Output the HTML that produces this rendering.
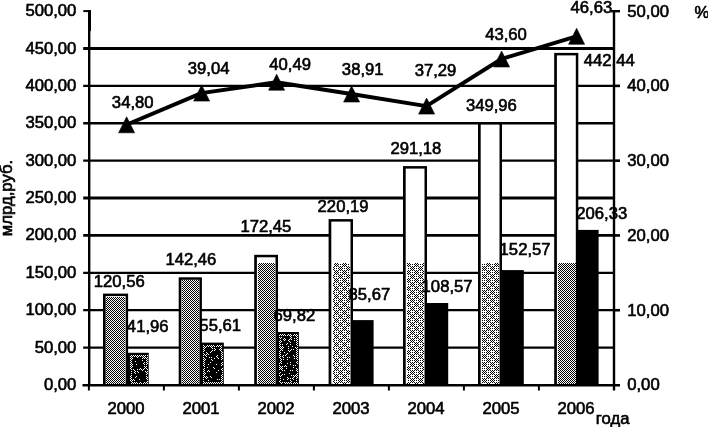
<!DOCTYPE html>
<html lang="ru"><head><meta charset="utf-8"><title>chart</title>
<style>
html,body{margin:0;padding:0;background:#fff;}
body{width:708px;height:427px;overflow:hidden;}
svg{display:block;}
text{font-family:"Liberation Sans",sans-serif;font-size:16.2px;fill:#000;stroke:#000;stroke-width:0.6px;}
</style></head><body>
<svg width="708" height="427" viewBox="0 0 708 427">
<defs>
<pattern id="ht" width="2" height="2" patternUnits="userSpaceOnUse"><rect width="2" height="2" fill="#fff"/><rect x="0" y="0" width="1" height="1" fill="#000"/><rect x="1" y="1" width="1" height="1" fill="#000"/></pattern>
<pattern id="hs" width="8" height="8" patternUnits="userSpaceOnUse"><rect width="8" height="8" fill="#fff"/>
<g fill="#000"><rect x="0" y="0" width="1" height="1"/><rect x="2" y="0" width="1" height="1"/><rect x="4" y="0" width="1" height="1"/><rect x="6" y="0" width="1" height="1"/>
<rect x="1" y="1" width="1" height="1"/><rect x="7" y="1" width="1" height="1"/>
<rect x="0" y="2" width="1" height="1"/><rect x="2" y="2" width="1" height="1"/><rect x="4" y="2" width="1" height="1"/><rect x="6" y="2" width="1" height="1"/>
<rect x="3" y="3" width="1" height="1"/><rect x="5" y="3" width="1" height="1"/>
<rect x="0" y="4" width="1" height="1"/><rect x="2" y="4" width="1" height="1"/><rect x="4" y="4" width="1" height="1"/><rect x="6" y="4" width="1" height="1"/>
<rect x="3" y="5" width="1" height="1"/><rect x="5" y="5" width="1" height="1"/>
<rect x="0" y="6" width="1" height="1"/><rect x="2" y="6" width="1" height="1"/><rect x="4" y="6" width="1" height="1"/><rect x="6" y="6" width="1" height="1"/>
<rect x="1" y="7" width="1" height="1"/><rect x="7" y="7" width="1" height="1"/></g></pattern>
</defs>
<rect width="708" height="427" fill="#fff"/>
<line x1="83.2" y1="347.61" x2="614.0" y2="347.61" stroke="#000" stroke-width="2.2"/>
<line x1="83.2" y1="310.22" x2="614.0" y2="310.22" stroke="#000" stroke-width="2.3"/>
<line x1="83.2" y1="272.83" x2="614.0" y2="272.83" stroke="#000" stroke-width="2.2"/>
<line x1="83.2" y1="235.44" x2="614.0" y2="235.44" stroke="#000" stroke-width="2.8"/>
<line x1="83.2" y1="198.05" x2="614.0" y2="198.05" stroke="#000" stroke-width="2.9"/>
<line x1="83.2" y1="160.66" x2="614.0" y2="160.66" stroke="#000" stroke-width="2.1"/>
<line x1="83.2" y1="123.27" x2="614.0" y2="123.27" stroke="#000" stroke-width="2.6"/>
<line x1="83.2" y1="85.88" x2="614.0" y2="85.88" stroke="#000" stroke-width="2.2"/>
<line x1="83.2" y1="48.49" x2="614.0" y2="48.49" stroke="#000" stroke-width="2.9"/>
<line x1="89.2" y1="10.1" x2="89.2" y2="386.0" stroke="#000" stroke-width="2.4"/>
<line x1="89.5" y1="10.1" x2="89.5" y2="31.1" stroke="#000" stroke-width="3"/>
<line x1="614.0" y1="10.1" x2="614.0" y2="390.5" stroke="#000" stroke-width="2.4"/>
<line x1="82.5" y1="385.2" x2="620.0" y2="385.2" stroke="#000" stroke-width="2.4"/>
<line x1="83.3" y1="11.1" x2="88.9" y2="11.1" stroke="#000" stroke-width="2"/>
<line x1="611.0" y1="11.2" x2="620.0" y2="11.2" stroke="#000" stroke-width="2.4"/>
<line x1="614.0" y1="310.22" x2="620.0" y2="310.22" stroke="#000" stroke-width="2.6"/>
<line x1="614.0" y1="235.44" x2="620.0" y2="235.44" stroke="#000" stroke-width="2.6"/>
<line x1="614.0" y1="160.66" x2="620.0" y2="160.66" stroke="#000" stroke-width="2.6"/>
<line x1="614.0" y1="85.88" x2="620.0" y2="85.88" stroke="#000" stroke-width="2.6"/>
<line x1="88.9" y1="385.0" x2="88.9" y2="390.5" stroke="#000" stroke-width="2"/>
<line x1="163.9" y1="385.0" x2="163.9" y2="390.5" stroke="#000" stroke-width="2"/>
<line x1="238.9" y1="385.0" x2="238.9" y2="390.5" stroke="#000" stroke-width="2"/>
<line x1="313.9" y1="385.0" x2="313.9" y2="390.5" stroke="#000" stroke-width="2"/>
<line x1="388.9" y1="385.0" x2="388.9" y2="390.5" stroke="#000" stroke-width="2"/>
<line x1="463.9" y1="385.0" x2="463.9" y2="390.5" stroke="#000" stroke-width="2"/>
<line x1="538.9" y1="385.0" x2="538.9" y2="390.5" stroke="#000" stroke-width="2"/>
<rect x="103.0" y="293.6" width="25.1" height="91.4" fill="#000"/>
<rect x="105.7" y="296.1" width="19.9" height="87.7" fill="#fff"/>
<rect shape-rendering="crispEdges" x="106" y="297" width="19" height="87" fill="url(#ht)"/>
<rect x="127.1" y="352.8" width="21.6" height="32.2" fill="#000"/>
<path shape-rendering="crispEdges" fill="#fff" d="M131 355h1v1h-1zM133 355h1v1h-1zM135 355h1v1h-1zM137 355h1v1h-1zM139 355h1v1h-1zM141 355h1v1h-1zM143 355h1v1h-1zM145 355h1v1h-1zM147 355h1v1h-1zM130 356h1v1h-1zM132 356h1v1h-1zM134 356h1v1h-1zM136 356h1v1h-1zM138 356h1v1h-1zM140 356h1v1h-1zM142 356h1v1h-1zM144 356h1v1h-1zM131 357h1v1h-1zM137 357h1v1h-1zM143 357h1v1h-1zM145 357h1v1h-1zM147 357h1v1h-1zM130 358h1v1h-1zM132 358h1v1h-1zM142 358h1v1h-1zM144 358h1v1h-1zM146 358h1v1h-1zM131 359h1v1h-1zM147 359h1v1h-1zM130 360h1v1h-1zM142 360h1v1h-1zM146 360h1v1h-1zM131 361h1v1h-1zM135 361h1v1h-1zM147 361h1v1h-1zM130 362h1v1h-1zM144 362h1v1h-1zM146 362h1v1h-1zM131 363h1v1h-1zM143 363h1v1h-1zM147 363h1v1h-1zM130 364h1v1h-1zM132 364h1v1h-1zM136 364h1v1h-1zM144 364h1v1h-1zM146 364h1v1h-1zM131 365h1v1h-1zM130 366h1v1h-1zM132 366h1v1h-1zM144 366h1v1h-1zM146 366h1v1h-1zM131 367h1v1h-1zM145 367h1v1h-1zM130 368h1v1h-1zM140 368h1v1h-1zM144 368h1v1h-1zM146 368h1v1h-1zM131 369h1v1h-1zM133 369h1v1h-1zM137 369h1v1h-1zM139 369h1v1h-1zM141 369h1v1h-1zM143 369h1v1h-1zM147 369h1v1h-1zM134 370h1v1h-1zM142 370h1v1h-1zM131 371h1v1h-1zM135 371h1v1h-1zM137 371h1v1h-1zM145 371h1v1h-1zM147 371h1v1h-1zM134 372h1v1h-1zM138 372h1v1h-1zM146 372h1v1h-1zM131 373h1v1h-1zM135 373h1v1h-1zM147 373h1v1h-1zM146 374h1v1h-1zM131 375h1v1h-1zM130 376h1v1h-1zM136 376h1v1h-1zM146 376h1v1h-1zM131 377h1v1h-1zM135 377h1v1h-1zM147 377h1v1h-1zM130 378h1v1h-1zM146 378h1v1h-1zM131 379h1v1h-1zM133 379h1v1h-1zM139 379h1v1h-1zM147 379h1v1h-1zM130 380h1v1h-1zM132 380h1v1h-1zM134 380h1v1h-1zM131 381h1v1h-1zM147 381h1v1h-1zM132 382h1v1h-1zM134 382h1v1h-1zM136 382h1v1h-1zM140 382h1v1h-1zM144 382h1v1h-1zM146 382h1v1h-1zM131 383h1v1h-1zM133 383h1v1h-1zM135 383h1v1h-1zM137 383h1v1h-1zM139 383h1v1h-1zM141 383h1v1h-1zM143 383h1v1h-1zM145 383h1v1h-1zM147 383h1v1h-1z"/>
<rect x="178.7" y="277.3" width="23.2" height="107.7" fill="#000"/>
<rect x="181.4" y="279.8" width="18.0" height="104.0" fill="#fff"/>
<rect shape-rendering="crispEdges" x="182" y="280" width="17" height="104" fill="url(#ht)"/>
<rect x="200.9" y="342.6" width="22.9" height="42.4" fill="#000"/>
<path shape-rendering="crispEdges" fill="#fff" d="M203 345h1v1h-1zM207 345h1v1h-1zM209 345h1v1h-1zM211 345h1v1h-1zM213 345h1v1h-1zM217 345h1v1h-1zM219 345h1v1h-1zM221 345h1v1h-1zM204 346h1v1h-1zM206 346h1v1h-1zM208 346h1v1h-1zM210 346h1v1h-1zM212 346h1v1h-1zM214 346h1v1h-1zM216 346h1v1h-1zM218 346h1v1h-1zM220 346h1v1h-1zM203 347h1v1h-1zM205 347h1v1h-1zM211 347h1v1h-1zM221 347h1v1h-1zM204 348h1v1h-1zM212 348h1v1h-1zM214 348h1v1h-1zM220 348h1v1h-1zM203 349h1v1h-1zM215 349h1v1h-1zM219 349h1v1h-1zM221 349h1v1h-1zM204 350h1v1h-1zM212 350h1v1h-1zM214 350h1v1h-1zM220 350h1v1h-1zM203 351h1v1h-1zM211 351h1v1h-1zM221 351h1v1h-1zM206 352h1v1h-1zM210 352h1v1h-1zM222 352h1v1h-1zM203 353h1v1h-1zM207 353h1v1h-1zM221 353h1v1h-1zM204 354h1v1h-1zM206 354h1v1h-1zM208 354h1v1h-1zM222 354h1v1h-1zM203 355h1v1h-1zM205 355h1v1h-1zM217 355h1v1h-1zM221 355h1v1h-1zM206 356h1v1h-1zM216 356h1v1h-1zM222 356h1v1h-1zM203 357h1v1h-1zM209 357h1v1h-1zM211 357h1v1h-1zM217 357h1v1h-1zM221 357h1v1h-1zM204 358h1v1h-1zM214 358h1v1h-1zM218 358h1v1h-1zM222 358h1v1h-1zM203 359h1v1h-1zM205 359h1v1h-1zM211 359h1v1h-1zM221 359h1v1h-1zM204 360h1v1h-1zM212 360h1v1h-1zM203 361h1v1h-1zM204 362h1v1h-1zM210 362h1v1h-1zM222 362h1v1h-1zM203 363h1v1h-1zM221 363h1v1h-1zM204 364h1v1h-1zM208 364h1v1h-1zM216 364h1v1h-1zM222 364h1v1h-1zM203 365h1v1h-1zM221 365h1v1h-1zM204 366h1v1h-1zM207 367h1v1h-1zM213 367h1v1h-1zM204 368h1v1h-1zM214 368h1v1h-1zM222 368h1v1h-1zM203 369h1v1h-1zM221 369h1v1h-1zM204 370h1v1h-1zM208 370h1v1h-1zM218 370h1v1h-1zM222 370h1v1h-1zM203 371h1v1h-1zM207 371h1v1h-1zM209 371h1v1h-1zM204 372h1v1h-1zM216 372h1v1h-1zM222 372h1v1h-1zM203 373h1v1h-1zM205 373h1v1h-1zM204 374h1v1h-1zM222 374h1v1h-1zM203 375h1v1h-1zM221 375h1v1h-1zM204 376h1v1h-1zM206 376h1v1h-1zM210 376h1v1h-1zM222 376h1v1h-1zM203 377h1v1h-1zM205 377h1v1h-1zM207 377h1v1h-1zM211 377h1v1h-1zM221 377h1v1h-1zM206 378h1v1h-1zM222 378h1v1h-1zM203 379h1v1h-1zM217 379h1v1h-1zM219 379h1v1h-1zM221 379h1v1h-1zM208 380h1v1h-1zM222 380h1v1h-1zM203 381h1v1h-1zM221 381h1v1h-1zM204 382h1v1h-1zM206 382h1v1h-1zM208 382h1v1h-1zM210 382h1v1h-1zM212 382h1v1h-1zM214 382h1v1h-1zM216 382h1v1h-1zM218 382h1v1h-1zM220 382h1v1h-1zM222 382h1v1h-1zM203 383h1v1h-1zM205 383h1v1h-1zM207 383h1v1h-1zM209 383h1v1h-1zM211 383h1v1h-1zM213 383h1v1h-1zM215 383h1v1h-1zM217 383h1v1h-1zM219 383h1v1h-1zM221 383h1v1h-1z"/>
<rect x="254.2" y="254.8" width="23.8" height="130.2" fill="#000"/>
<rect x="256.9" y="257.3" width="18.6" height="126.5" fill="#fff"/>
<rect shape-rendering="crispEdges" x="258" y="263" width="17" height="121" fill="url(#ht)"/>
<rect x="277.0" y="332.0" width="21.9" height="53.0" fill="#000"/>
<path shape-rendering="crispEdges" fill="#fff" d="M280 334h1v1h-1zM282 334h1v1h-1zM284 334h1v1h-1zM288 334h1v1h-1zM290 334h1v1h-1zM294 334h1v1h-1zM296 334h1v1h-1zM279 335h1v1h-1zM281 335h1v1h-1zM283 335h1v1h-1zM285 335h1v1h-1zM287 335h1v1h-1zM289 335h1v1h-1zM291 335h1v1h-1zM293 335h1v1h-1zM295 335h1v1h-1zM297 335h1v1h-1zM290 336h1v1h-1zM296 336h1v1h-1zM279 337h1v1h-1zM281 337h1v1h-1zM291 337h1v1h-1zM297 337h1v1h-1zM280 338h1v1h-1zM284 338h1v1h-1zM290 338h1v1h-1zM294 338h1v1h-1zM296 338h1v1h-1zM283 339h1v1h-1zM285 339h1v1h-1zM289 339h1v1h-1zM291 339h1v1h-1zM297 339h1v1h-1zM280 340h1v1h-1zM284 340h1v1h-1zM288 340h1v1h-1zM294 340h1v1h-1zM296 340h1v1h-1zM279 341h1v1h-1zM281 341h1v1h-1zM289 341h1v1h-1zM297 341h1v1h-1zM280 342h1v1h-1zM290 342h1v1h-1zM296 342h1v1h-1zM279 343h1v1h-1zM287 343h1v1h-1zM297 343h1v1h-1zM280 344h1v1h-1zM282 344h1v1h-1zM286 344h1v1h-1zM290 344h1v1h-1zM296 344h1v1h-1zM279 345h1v1h-1zM297 345h1v1h-1zM280 346h1v1h-1zM282 346h1v1h-1zM288 346h1v1h-1zM292 346h1v1h-1zM279 347h1v1h-1zM281 347h1v1h-1zM283 347h1v1h-1zM295 347h1v1h-1zM297 347h1v1h-1zM280 348h1v1h-1zM282 348h1v1h-1zM288 348h1v1h-1zM296 348h1v1h-1zM281 349h1v1h-1zM291 349h1v1h-1zM293 349h1v1h-1zM297 349h1v1h-1zM280 350h1v1h-1zM282 350h1v1h-1zM288 350h1v1h-1zM290 350h1v1h-1zM296 350h1v1h-1zM279 351h1v1h-1zM289 351h1v1h-1zM297 351h1v1h-1zM280 352h1v1h-1zM284 352h1v1h-1zM296 352h1v1h-1zM279 353h1v1h-1zM287 353h1v1h-1zM297 353h1v1h-1zM280 354h1v1h-1zM286 354h1v1h-1zM296 354h1v1h-1zM279 355h1v1h-1zM283 355h1v1h-1zM285 355h1v1h-1zM293 355h1v1h-1zM297 355h1v1h-1zM280 356h1v1h-1zM282 356h1v1h-1zM294 356h1v1h-1zM296 356h1v1h-1zM279 357h1v1h-1zM283 357h1v1h-1zM287 357h1v1h-1zM289 357h1v1h-1zM297 357h1v1h-1zM280 358h1v1h-1zM294 358h1v1h-1zM296 358h1v1h-1zM281 359h1v1h-1zM283 359h1v1h-1zM287 359h1v1h-1zM297 359h1v1h-1zM280 360h1v1h-1zM281 361h1v1h-1zM297 361h1v1h-1zM280 362h1v1h-1zM290 362h1v1h-1zM296 362h1v1h-1zM279 363h1v1h-1zM281 363h1v1h-1zM287 363h1v1h-1zM297 363h1v1h-1zM290 364h1v1h-1zM279 365h1v1h-1zM285 365h1v1h-1zM293 365h1v1h-1zM295 365h1v1h-1zM280 366h1v1h-1zM282 366h1v1h-1zM284 366h1v1h-1zM286 366h1v1h-1zM279 367h1v1h-1zM281 367h1v1h-1zM293 367h1v1h-1zM280 368h1v1h-1zM282 368h1v1h-1zM286 368h1v1h-1zM296 368h1v1h-1zM279 369h1v1h-1zM281 369h1v1h-1zM297 369h1v1h-1zM282 370h1v1h-1zM284 370h1v1h-1zM290 370h1v1h-1zM292 370h1v1h-1zM296 370h1v1h-1zM297 371h1v1h-1zM280 372h1v1h-1zM279 373h1v1h-1zM289 373h1v1h-1zM297 373h1v1h-1zM282 374h1v1h-1zM284 374h1v1h-1zM296 374h1v1h-1zM279 375h1v1h-1zM281 375h1v1h-1zM291 375h1v1h-1zM293 375h1v1h-1zM295 375h1v1h-1zM297 375h1v1h-1zM280 376h1v1h-1zM294 376h1v1h-1zM296 376h1v1h-1zM287 377h1v1h-1zM293 377h1v1h-1zM297 377h1v1h-1zM280 378h1v1h-1zM288 378h1v1h-1zM290 378h1v1h-1zM292 378h1v1h-1zM296 378h1v1h-1zM283 379h1v1h-1zM287 379h1v1h-1zM293 379h1v1h-1zM280 380h1v1h-1zM290 380h1v1h-1zM296 380h1v1h-1zM279 381h1v1h-1zM291 381h1v1h-1zM280 382h1v1h-1zM282 382h1v1h-1zM284 382h1v1h-1zM286 382h1v1h-1zM288 382h1v1h-1zM290 382h1v1h-1zM294 382h1v1h-1zM296 382h1v1h-1zM281 383h1v1h-1zM285 383h1v1h-1zM287 383h1v1h-1zM289 383h1v1h-1zM291 383h1v1h-1zM293 383h1v1h-1zM295 383h1v1h-1zM297 383h1v1h-1z"/>
<rect x="328.6" y="219.1" width="24.4" height="165.9" fill="#000"/>
<rect x="331.3" y="221.6" width="19.2" height="162.2" fill="#fff"/>
<rect shape-rendering="crispEdges" x="333" y="263" width="17" height="121" fill="url(#hs)"/>
<rect x="352.0" y="320.1" width="21.6" height="64.9" fill="#000"/>
<rect x="403.0" y="166.1" width="24.0" height="218.9" fill="#000"/>
<rect x="405.7" y="168.6" width="18.8" height="215.2" fill="#fff"/>
<rect shape-rendering="crispEdges" x="407" y="263" width="17" height="121" fill="url(#hs)"/>
<rect x="426.0" y="303.0" width="22.2" height="82.0" fill="#000"/>
<rect x="478.0" y="122.1" width="24.0" height="262.9" fill="#000"/>
<rect x="480.7" y="124.6" width="18.8" height="259.2" fill="#fff"/>
<rect shape-rendering="crispEdges" x="482" y="263" width="17" height="121" fill="url(#hs)"/>
<rect x="501.0" y="270.1" width="22.8" height="114.9" fill="#000"/>
<rect x="554.2" y="52.9" width="24.1" height="332.1" fill="#000"/>
<rect x="556.9" y="55.4" width="18.9" height="328.4" fill="#fff"/>
<rect shape-rendering="crispEdges" x="558" y="263" width="18" height="121" fill="url(#ht)"/>
<rect x="577.3" y="229.9" width="21.3" height="155.1" fill="#000"/>
<polyline fill="none" stroke="#000" stroke-width="3.9" stroke-linejoin="round" points="126.4,124.8 201.4,93.1 276.4,82.2 351.4,94.0 426.4,106.1 501.4,59.0 576.4,36.3"/>
<polygon fill="#000" stroke="#000" stroke-width="0.6" stroke-linejoin="round" points="126.6,116.8 118.6,132.8 134.6,132.8"/>
<polygon fill="#000" stroke="#000" stroke-width="0.6" stroke-linejoin="round" points="201.6,85.1 193.6,101.1 209.6,101.1"/>
<polygon fill="#000" stroke="#000" stroke-width="0.6" stroke-linejoin="round" points="276.6,74.2 268.6,90.2 284.6,90.2"/>
<polygon fill="#000" stroke="#000" stroke-width="0.6" stroke-linejoin="round" points="351.6,86.0 343.6,102.0 359.6,102.0"/>
<polygon fill="#000" stroke="#000" stroke-width="0.6" stroke-linejoin="round" points="426.6,98.1 418.6,114.1 434.6,114.1"/>
<polygon fill="#000" stroke="#000" stroke-width="0.6" stroke-linejoin="round" points="501.6,51.0 493.6,67.0 509.6,67.0"/>
<polygon fill="#000" stroke="#000" stroke-width="0.6" stroke-linejoin="round" points="576.6,28.3 568.6,44.3 584.6,44.3"/>
<text transform="translate(76.4,390.0) scale(1.03,1)" text-anchor="end">0,00</text>
<text transform="translate(76.4,352.6) scale(1.03,1)" text-anchor="end">50,00</text>
<text transform="translate(76.4,315.2) scale(1.03,1)" text-anchor="end">100,00</text>
<text transform="translate(76.4,277.8) scale(1.03,1)" text-anchor="end">150,00</text>
<text transform="translate(76.4,240.4) scale(1.03,1)" text-anchor="end">200,00</text>
<text transform="translate(76.4,203.1) scale(1.03,1)" text-anchor="end">250,00</text>
<text transform="translate(76.4,165.7) scale(1.03,1)" text-anchor="end">300,00</text>
<text transform="translate(76.4,128.3) scale(1.03,1)" text-anchor="end">350,00</text>
<text transform="translate(76.4,90.9) scale(1.03,1)" text-anchor="end">400,00</text>
<text transform="translate(76.4,53.5) scale(1.03,1)" text-anchor="end">450,00</text>
<text transform="translate(76.4,16.1) scale(1.03,1)" text-anchor="end">500,00</text>
<text transform="translate(627.2,390.4) scale(1.03,1)">0,00</text>
<text transform="translate(627.2,315.6) scale(1.03,1)">10,00</text>
<text transform="translate(627.2,240.8) scale(1.03,1)">20,00</text>
<text transform="translate(627.2,166.1) scale(1.03,1)">30,00</text>
<text transform="translate(627.2,91.3) scale(1.03,1)">40,00</text>
<text transform="translate(627.2,16.5) scale(1.03,1)">50,00</text>
<text transform="translate(694.4,18.3) scale(1.03,1)">%</text>
<text transform="translate(126.0,414.3) scale(1.03,1)" text-anchor="middle">2000</text>
<text transform="translate(201.0,414.3) scale(1.03,1)" text-anchor="middle">2001</text>
<text transform="translate(276.0,414.3) scale(1.03,1)" text-anchor="middle">2002</text>
<text transform="translate(351.0,414.3) scale(1.03,1)" text-anchor="middle">2003</text>
<text transform="translate(426.0,414.3) scale(1.03,1)" text-anchor="middle">2004</text>
<text transform="translate(501.0,414.3) scale(1.03,1)" text-anchor="middle">2005</text>
<text transform="translate(576.0,414.3) scale(1.03,1)" text-anchor="middle">2006</text>
<text transform="translate(595.8,424.3) scale(1.03,1)">года</text>
<text transform="translate(12.2,198) rotate(-90) scale(1.03,1)" text-anchor="middle">млрд,руб.</text>
<text transform="translate(153.6,107.8) scale(1.03,1)" text-anchor="end">34,80</text>
<text transform="translate(229.5,73.8) scale(1.03,1)" text-anchor="end">39,04</text>
<text transform="translate(311.0,70.0) scale(1.03,1)" text-anchor="end">40,49</text>
<text transform="translate(383.6,74.7) scale(1.03,1)" text-anchor="end">38,91</text>
<text transform="translate(456.4,76.3) scale(1.03,1)" text-anchor="end">37,29</text>
<text transform="translate(526.9,39.7) scale(1.03,1)" text-anchor="end">43,60</text>
<text transform="translate(612.3,12.5) scale(1.03,1)" text-anchor="end">46,63</text>
<text transform="translate(144.8,286.7) scale(1.03,1)" text-anchor="end">120,56</text>
<text transform="translate(216.4,265.3) scale(1.03,1)" text-anchor="end">142,46</text>
<text transform="translate(291.4,231.7) scale(1.03,1)" text-anchor="end">172,45</text>
<text transform="translate(368.6,212.0) scale(1.03,1)" text-anchor="end">220,19</text>
<text transform="translate(441.4,154.2) scale(1.03,1)" text-anchor="end">291,18</text>
<text transform="translate(516.9,110.8) scale(1.03,1)" text-anchor="end">349,96</text>
<text transform="translate(634.8,66.0) scale(1.03,1)" text-anchor="end">442,44</text>
<text transform="translate(168.6,331.7) scale(1.03,1)" text-anchor="end">41,96</text>
<text transform="translate(241.1,330.5) scale(1.03,1)" text-anchor="end">55,61</text>
<text transform="translate(315.3,321.3) scale(1.03,1)" text-anchor="end">69,82</text>
<text transform="translate(390.3,300.0) scale(1.03,1)" text-anchor="end">85,67</text>
<text transform="translate(472.6,292.0) scale(1.03,1)" text-anchor="end">108,57</text>
<text transform="translate(550.6,255.0) scale(1.03,1)" text-anchor="end">152,57</text>
<text transform="translate(627.3,219.2) scale(1.03,1)" text-anchor="end">206,33</text>
</svg></body></html>
